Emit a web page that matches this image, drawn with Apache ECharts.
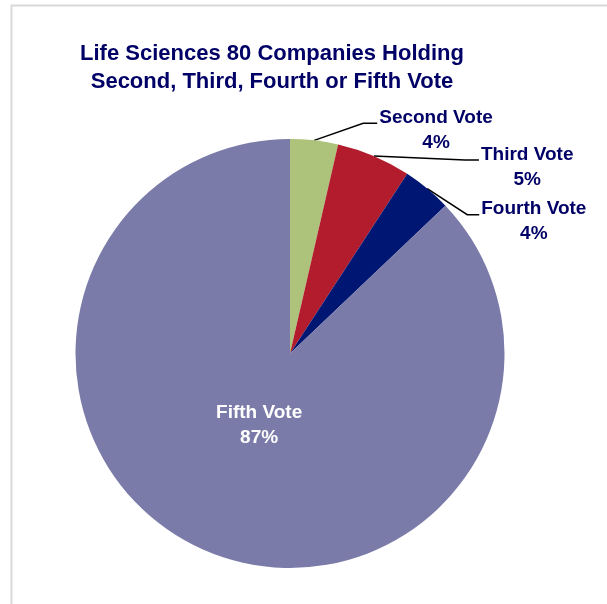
<!DOCTYPE html>
<html>
<head>
<meta charset="utf-8">
<script src="https://cdn.jsdelivr.net/npm/echarts@6/dist/echarts.min.js"></script>
<style>
  html, body { margin: 0; padding: 0; background: #fff; }
  #VoteChart { width: 607px; height: 604px; }
</style>
</head>
<body>
<div id="VoteChart"></div>
<script>
// data
var voteNames = ['Second Vote', 'Third Vote', 'Fourth Vote', 'Fifth Vote'];
var voteShares = [3.6, 5.6, 3.7, 87.1]; // slice sizes
var shareLabels = ['4%', '5%', '4%', '87%'];
var voteColors = ['#adc27a', '#b21c2d', '#001673', '#7a7ba8'];

var CX = 290, CY = 353.5, R = 214.5;
// leader line: [elbow dx, elbow dy, horizontal tail, label dy]
var guides = [
  [49, -17, 14, 7],
  [91, 4, 14, 7],
  [40, 26, 12, 7],
];

var myChart = echarts.init(document.getElementById('VoteChart'));

var option = {
  animation: false,
  title: {
    text: 'Life Sciences 80 Companies Holding\nSecond, Third, Fourth or Fifth Vote',
    left: 267,
    top: 35,
    textAlign: 'center',
    textStyle: {
      fontFamily: 'Liberation Sans, Arial, sans-serif',
      fontSize: 22,
      fontWeight: 'bold',
      color: '#000066',
      lineHeight: 28,
    },
  },
  graphic: [
    {
      // frame of the chart area
      type: 'rect',
      shape: { x: 11.5, y: 5.5, width: 700, height: 700 },
      style: { fill: null, stroke: '#d9d9d9', lineWidth: 2 },
      silent: true,
    },
  ],
  series: [
    {
      type: 'pie',
      center: [CX, CY],
      radius: R,
      startAngle: 90,
      clockwise: true,
      avoidLabelOverlap: false,
      itemStyle: { borderWidth: 0 },
      label: {
        show: true,
        position: 'outside',
        fontFamily: 'Liberation Sans, Arial, sans-serif',
        fontSize: 19,
        fontWeight: 'bold',
        color: '#000066',
        formatter: function (p) {
          return '{t|' + p.name + '}\n{t|' + shareLabels[p.dataIndex] + '}';
        },
        rich: {
          t: {
            fontFamily: 'Liberation Sans, Arial, sans-serif',
            fontSize: 19,
            fontWeight: 'bold',
            lineHeight: 25,
            align: 'center',
          },
        },
      },
      labelLine: {
        show: true,
        length: 20,
        length2: 14,
        lineStyle: { color: '#000', width: 1.5 },
      },
      labelLayout: function (p) {
        var i = p.dataIndex;
        if (i === 3) {
          // inner label sits closer to the centre
          var lx = p.labelRect.x + p.labelRect.width / 2;
          var ly = p.labelRect.y + p.labelRect.height / 2;
          return {
            x: CX + (lx - CX) * 0.71,
            y: CY + (ly - CY) * 0.71,
            align: 'center',
            verticalAlign: 'middle',
          };
        }
        var a = p.labelLinePoints[0];
        var g = guides[i];
        var elbow = [a[0] + g[0], a[1] + g[1]];
        var end = [elbow[0] + g[2], elbow[1]];
        return {
          x: end[0] + 2,
          y: end[1] + g[3],
          align: 'left',
          verticalAlign: 'middle',
          labelLinePoints: [a, elbow, end],
        };
      },
      data: voteNames.map(function (n, i) {
        var item = {
          name: n,
          value: voteShares[i],
          itemStyle: { color: voteColors[i] },
        };
        if (i === 3) {
          item.label = { position: 'inside', rich: { t: { color: '#fff' } } };
          item.labelLine = { show: false };
        }
        return item;
      }),
    },
  ],
};
myChart.setOption(option, true);
</script>
</body>
</html>
